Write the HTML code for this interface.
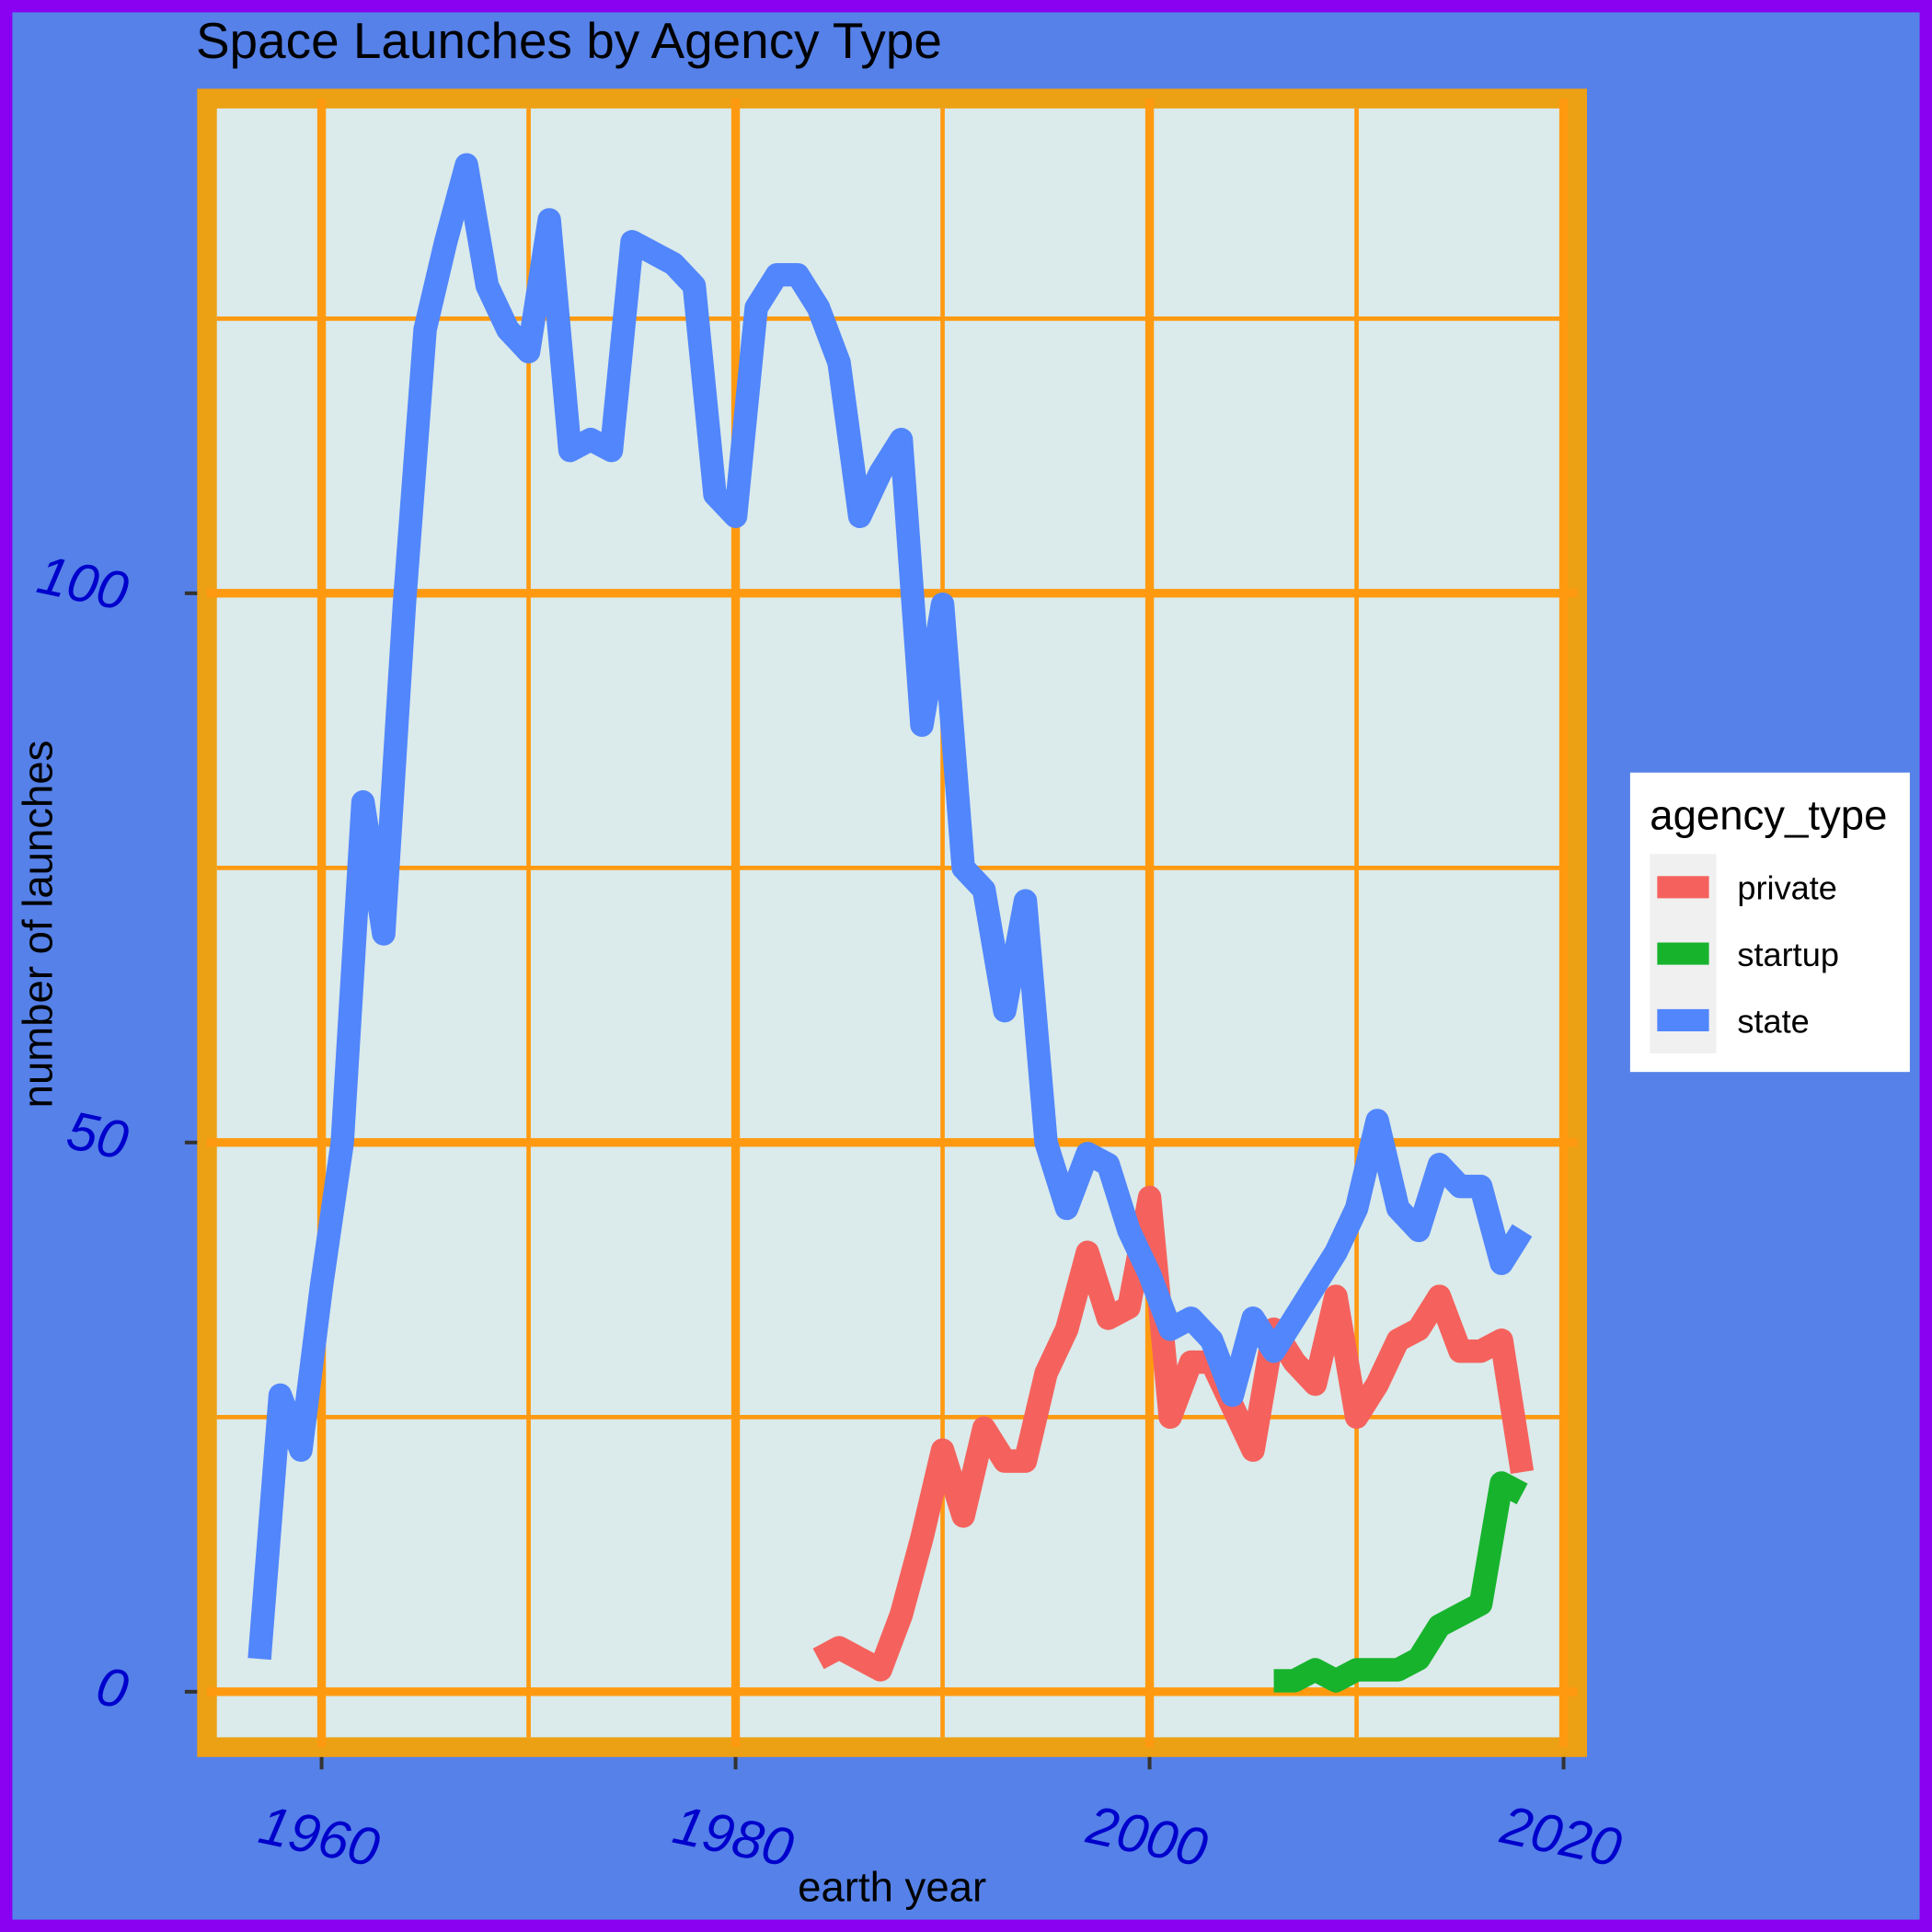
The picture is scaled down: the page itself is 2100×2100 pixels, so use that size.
<!DOCTYPE html>
<html><head><meta charset="utf-8"><style>
html,body{margin:0;padding:0;background:#5581e8;}
svg{display:block;}
text{font-family:"Liberation Sans",sans-serif;}
</style></head><body>
<svg id="chart" width="2100" height="2100" viewBox="0 0 1568 1568" xmlns="http://www.w3.org/2000/svg">
<rect x="5" y="5" width="1558" height="1558" fill="#5581e8" stroke="#8a00f0" stroke-width="10"/>
<text x="159" y="47" font-size="41" fill="#000">Space Launches by Agency Type</text>
<rect x="168" y="80" width="1112" height="1338" fill="#dbeaea" stroke="#eca014" stroke-width="16"/>
<g id="grid"></g>
<g id="lines"></g>
<g id="axes"></g>
<text x="724" y="1543" font-size="34" text-anchor="middle" fill="#000">earth year</text>
<text transform="translate(42,750) rotate(-90)" font-size="34" text-anchor="middle" fill="#000">number of launches</text>
<g>
<rect x="1323" y="627" width="227" height="243" fill="#fff"/>
<text x="1339" y="673" font-size="34" fill="#000">agency_type</text>
<rect x="1339" y="693" width="54" height="162" fill="#f0f0f0"/>
<g><line x1="1345" x2="1387" y1="720" y2="720" stroke="#f5625d" stroke-width="18"/><text x="1410" y="730" font-size="27">private</text></g>
<g><line x1="1345" x2="1387" y1="774" y2="774" stroke="#17b32d" stroke-width="18"/><text x="1410" y="784" font-size="27">startup</text></g>
<g><line x1="1345" x2="1387" y1="828" y2="828" stroke="#5186fc" stroke-width="18"/><text x="1410" y="838" font-size="27">state</text></g>
</g>
</svg>
<script>
const stateYears=[1957,1958,1959,1960,1961,1962,1963,1964,1965,1966,1967,1968,1969,1970,1971,1972,1973,1974,1975,1976,1977,1978,1979,1980,1981,1982,1983,1984,1985,1986,1987,1988,1989,1990,1991,1992,1993,1994,1995,1996,1997,1998,1999,2000,2001,2002,2003,2004,2005,2006,2007,2008,2009,2010,2011,2012,2013,2014,2015,2016,2017,2018];
const stateValues=[3,27,22,37,50,81,69,99,124,132,139,128,124,122,134,113,114,113,132,131,130,128,109,107,126,129,129,126,121,107,111,114,88,99,75,73,62,72,50,44,49,48,42,38,33,34,32,27,34,31,34,37,40,44,52,44,42,48,46,46,39,42];
const privateYears=[1984,1985,1986,1987,1988,1989,1990,1991,1992,1993,1994,1995,1996,1997,1998,1999,2000,2001,2002,2003,2004,2005,2006,2007,2008,2009,2010,2011,2012,2013,2014,2015,2016,2017,2018];
const privateValues=[3,4,3,2,7,14,22,16,24,21,21,29,33,40,34,35,45,25,30,30,26,22,33,30,28,36,25,28,32,33,36,31,31,32,20];
const startupYears=[2006,2007,2008,2009,2010,2011,2012,2013,2014,2015,2016,2017,2018];
const startupValues=[1,1,2,1,2,2,2,3,6,7,8,19,18];
const xTicks=[1960,1980,2000,2020];
const xMinor=[1970,1990,2010];
const yTicks=[0,50,100];
const yMinor=[25,75,125];
const NS="http://www.w3.org/2000/svg";
const X=v=>261+(v-1960)*16.8;
const Y=v=>1373-v*8.915;
function mk(tag,attrs,parent){const e=document.createElementNS(NS,tag);for(const k in attrs)e.setAttribute(k,attrs[k]);parent.appendChild(e);return e;}
const grid=document.getElementById('grid'),axes=document.getElementById('axes'),lines=document.getElementById('lines');
yMinor.forEach(v=>{const l=mk('line',{x1:176,x2:1272,y1:Y(v),y2:Y(v),stroke:'#ff9a10','stroke-width':3.5},grid);

});
xMinor.forEach(v=>{const l=mk('line',{x1:X(v),x2:X(v),y1:88,y2:1410,stroke:'#ff9a10','stroke-width':3.5},grid);

});
yTicks.forEach(v=>{const l=mk('line',{x1:168,x2:1280,y1:Y(v),y2:Y(v),stroke:'#ff9a10','stroke-width':7},grid);


const t=mk('line',{x1:150,x2:160,y1:Y(v),y2:Y(v),stroke:'#333','stroke-width':3},axes);


const tx=mk('text',{x:0,y:0,'font-size':44,'font-style':'italic',fill:'#0000cc','text-anchor':'end',transform:`translate(100,${Y(v)+14}) rotate(12)`},axes);
tx.textContent=v;

});
xTicks.forEach(v=>{const l=mk('line',{x1:X(v),x2:X(v),y1:80,y2:1418,stroke:'#ff9a10','stroke-width':7},grid);


const t=mk('line',{x1:X(v),x2:X(v),y1:1426,y2:1436,stroke:'#333','stroke-width':3},axes);


const tx=mk('text',{x:0,y:0,'font-size':44,'font-style':'italic',fill:'#0000cc','text-anchor':'middle',transform:`translate(${X(v)-5},${1505}) rotate(12)`},axes);
tx.textContent=v;

});
function series(xs,ys,color,name){const d=xs.map((x,i)=>(i?'L':'M')+X(x).toFixed(1)+','+Y(ys[i]).toFixed(1)).join('');
const p=mk('path',{d:d,fill:'none',stroke:color,'stroke-width':19,'stroke-linejoin':'round'},lines);

}
series(privateYears,privateValues,'#f5625d','private-line');
series(startupYears,startupValues,'#17b32d','startup-line');
series(stateYears,stateValues,'#5186fc','state-line');
</script>
</body></html>
